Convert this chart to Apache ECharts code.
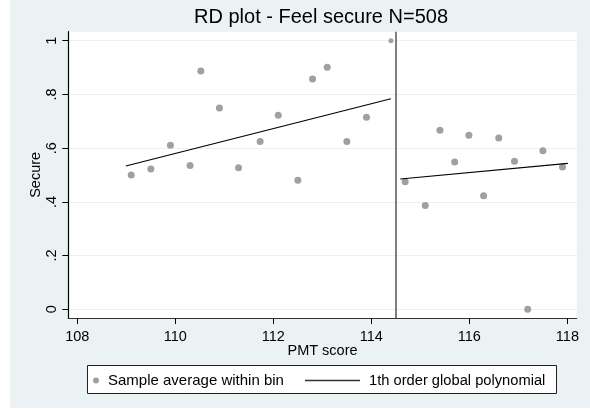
<!DOCTYPE html>
<html>
<head>
<meta charset="utf-8">
<script src="https://cdn.jsdelivr.net/npm/echarts@6/dist/echarts.min.js"></script>
<style>
  html, body { margin: 0; padding: 0; background: #ffffff; }
  #chart { position: absolute; left: 10px; top: 0; width: 580px; height: 408px; background: #EAF2F3; }
</style>
</head>
<body>
<div id="chart"></div>
<script>
// Bin averages of "Feel secure" by PMT score
const binX = [109.1, 109.5, 109.9, 110.3, 110.52, 110.9, 111.29, 111.73, 112.1, 112.5, 112.8, 113.1, 113.5, 113.9, 114.4,
              114.69, 115.1, 115.4, 115.7, 115.99, 116.29, 116.6, 116.92, 117.19, 117.5, 117.9];
const binY = [0.500, 0.522, 0.611, 0.535, 0.887, 0.749, 0.527, 0.625, 0.722, 0.480, 0.857, 0.901, 0.625, 0.715, 1.000,
              0.475, 0.386, 0.667, 0.548, 0.648, 0.423, 0.638, 0.551, 0.000, 0.590, 0.530];

// Linear fits on each side of the cutoff
const leftFitX = [108.99, 114.40];
const leftFitY = [0.5335, 0.784];
const rightFitX = [114.59, 118.01];
const rightFitY = [0.485, 0.5435];

const cutoff = 114.5;

const xTicks = [108, 110, 112, 114, 116, 118];
const yTicks = [0, 0.2, 0.4, 0.6, 0.8, 1];
const yTickLabels = ['0', '.2', '.4', '.6', '.8', '1'];

const scatterName = 'Sample average within bin';
const fitName = '1th order global polynomial';

const font = 'Liberation Sans, Arial, sans-serif';

const scatterData = binX.map((x, i) => {
  const item = { value: [x, binY[i]] };
  if (binY[i] >= 1) item.symbolSize = 5;
  return item;
});
const pairs = (xs, ys) => xs.map((x, i) => [x, ys[i]]);

const chart = echarts.init(document.getElementById('chart'), null, { renderer: 'canvas' });

chart.setOption({
  backgroundColor: 'transparent',
  animation: false,
  title: {
    text: 'RD plot - Feel secure N=508',
    left: 184,
    top: 7,
    padding: 0,
    textStyle: { fontFamily: font, fontSize: 20, fontWeight: 'normal', color: '#000' }
  },
  grid: {
    left: 58.3, top: 31.7, right: 13.3, bottom: 90,
    show: true, backgroundColor: '#ffffff', borderWidth: 0
  },
  xAxis: {
    type: 'value',
    min: 107.816, max: 118.19,
    name: 'PMT score',
    nameLocation: 'middle',
    nameGap: 25,
    nameMoveOverlap: false,
    nameTextStyle: { fontFamily: font, fontSize: 14.5, color: '#000' },
    axisLine: { show: true, onZero: false, lineStyle: { color: '#333', width: 1.2 } },
    axisTick: { show: true, length: 6, customValues: xTicks, lineStyle: { color: '#000' } },
    axisLabel: { customValues: xTicks, margin: 11, fontFamily: font, fontSize: 14.5, color: '#000' },
    splitLine: { show: false }
  },
  yAxis: {
    type: 'value',
    min: -0.0324, max: 1.0335,
    name: 'Secure',
    nameLocation: 'middle',
    nameGap: 25,
    nameMoveOverlap: false,
    nameTextStyle: { fontFamily: font, fontSize: 14.5, color: '#000' },
    axisLine: { show: true, onZero: false, lineStyle: { color: '#000', width: 1.2 } },
    axisTick: { show: true, length: 6, customValues: yTicks, lineStyle: { color: '#000' } },
    axisLabel: {
      customValues: yTicks, rotate: 90, margin: 9,
      fontFamily: font, fontSize: 14.5, color: '#000',
      formatter: v => yTickLabels[yTicks.findIndex(t => Math.abs(t - v) < 1e-6)]
    },
    splitLine: { show: true, lineStyle: { color: '#EAF2F3', width: 1.2 } }
  },
  legend: [
    {
      data: [scatterName],
      left: 83, top: 373, padding: 0,
      icon: 'circle', itemWidth: 14, itemHeight: 6,
      textStyle: { fontFamily: font, fontSize: 15, color: '#000' }
    },
    {
      data: [fitName],
      left: 295, top: 373, padding: 0,
      icon: 'rect', itemWidth: 55, itemHeight: 1.3,
      itemStyle: { color: '#333' },
      textStyle: { fontFamily: font, fontSize: 14.7, color: '#000', padding: [0, 0, 0, 4] }
    }
  ],
  graphic: [{
    type: 'rect',
    z: 1,
    shape: { x: 77.5, y: 365.5, width: 469, height: 28 },
    style: { fill: '#ffffff', stroke: '#222', lineWidth: 1 }
  }],
  series: [
    {
      name: scatterName,
      type: 'scatter',
      data: scatterData,
      symbolSize: 7,
      itemStyle: { color: '#A0A0A0', opacity: 1 },
      markLine: {
        silent: true,
        symbol: 'none',
        label: { show: false },
        lineStyle: { color: '#555', width: 1.5, type: 'solid' },
        data: [{ xAxis: cutoff }]
      },
      z: 3
    },
    {
      name: fitName,
      type: 'line',
      data: pairs(leftFitX, leftFitY),
      showSymbol: false, symbol: 'none',
      lineStyle: { color: '#000', width: 1.2 },
      z: 4
    },
    {
      name: fitName,
      type: 'line',
      data: pairs(rightFitX, rightFitY),
      showSymbol: false, symbol: 'none',
      lineStyle: { color: '#000', width: 1.2 },
      z: 4
    }
  ]
});
</script>
</body>
</html>
